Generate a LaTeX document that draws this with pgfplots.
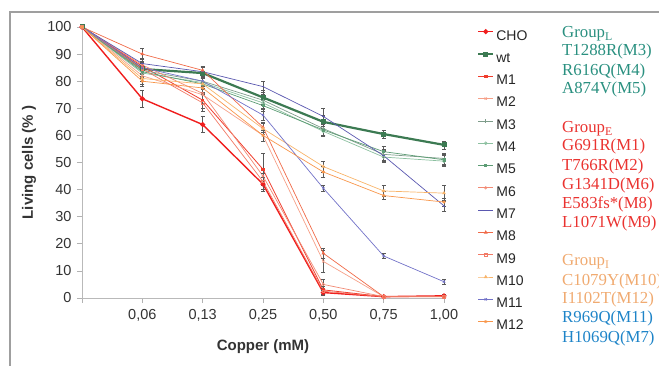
\documentclass[border=0pt]{standalone}
\usepackage{pgfplots}
\pgfplotsset{compat=1.18}
\usepackage{fontspec}
\setmainfont{Liberation Sans}
\newfontfamily\tnr{Liberation Serif}
\definecolor{cho}{HTML}{F01E1E}
\definecolor{wt}{HTML}{3C7A52}
\definecolor{mone}{HTML}{F03C2C}
\definecolor{mtwo}{HTML}{F6A088}
\definecolor{mthree}{HTML}{7E9C8A}
\definecolor{mfour}{HTML}{8CC0A0}
\definecolor{mfive}{HTML}{5C9C74}
\definecolor{msix}{HTML}{F28A74}
\definecolor{mseven}{HTML}{5A58B0}
\definecolor{meight}{HTML}{F06A48}
\definecolor{mnine}{HTML}{F27A66}
\definecolor{mten}{HTML}{F8B46A}
\definecolor{meleven}{HTML}{7272C8}
\definecolor{mtwelve}{HTML}{F8964A}
\definecolor{gteal}{HTML}{2A9080}
\definecolor{gred}{HTML}{EA3330}
\definecolor{gorange}{HTML}{F0AA70}
\definecolor{gblue}{HTML}{1E84C8}
\begin{document}
\begin{tikzpicture}
\useasboundingbox (0,0) rectangle (659pt,366pt);
\draw[gray!75, line width=1.3pt] (10pt,-5pt) -- (10pt,354pt) -- (665pt,354pt);
\begin{axis}[
  at={(82pt,68pt)}, anchor=south west,
  scale only axis, width=362pt, height=271pt,
  xmin=0, xmax=6, ymin=0, ymax=100,
  clip=false,
  axis lines=left,
  axis line style={-, draw=gray!55, line width=0.7pt},
  xtick={0,1,2,3,4,5,6},
  xticklabels={{},{0,06},{0,13},{0,25},{0,50},{0,75},{1,00}},
  ytick={0,10,...,100},
  tick align=outside,
  major tick length=5pt,
  tick style={draw=gray!60, line width=0.7pt},
  /pgf/number format/assume math mode=true,
  ticklabel style={font=\fontsize{14.5}{15}\selectfont, text=black!80},
  xticklabel style={yshift=-3pt},
  yticklabel style={xshift=-2pt},
  xlabel={\textbf{Copper (mM)}},
  ylabel={\textbf{Living cells (\% )}},
  xlabel style={at={(axis description cs:0.5,-0.181)}, anchor=center, font=\fontsize{15}{16}\selectfont, text=black!80},
  ylabel style={at={(axis description cs:-0.1464,0.5)}, anchor=center, font=\fontsize{15}{16}\selectfont, text=black!80},
  legend style={at={(1.091,0.99)}, anchor=north west, draw=none, fill=none,
    inner sep=0pt, row sep=9.3pt,
    font=\fontsize{14}{14}\selectfont, text=black!85,
    nodes={inner xsep=2pt, inner ysep=0pt, text height=10pt, text depth=3pt}},
  legend cell align=left,
  legend image code/.code={\draw[mark repeat=2,mark phase=2,#1] plot coordinates {(0pt,4.8pt) (7.5pt,4.8pt) (15pt,4.8pt)};},
  errs/.style={error bars/.cd, y dir=both, y explicit,
    error bar style={black!65, line width=0.5pt},
    error mark options={black!65, rotate=90, mark size=2pt, line width=0.5pt}},
]
% CHO
\addplot[cho, line width=1.4pt, mark=*, mark size=1.8pt, errs] coordinates {
(0,100) +- (0,0) (1,73.5) +- (0,3) (2,64) +- (0,3) (3,42) +- (0,2.5) (4,2) +- (0,1) (5,0.5) +- (0,0.3) (6,0.8) +- (0,0.5)};
\addlegendentry{CHO}
% wt
\addplot[wt, line width=2.2pt, mark=square*, mark size=1.4pt, errs] coordinates {
(0,100) +- (0,0) (1,84.5) +- (0,2) (2,83) +- (0,2) (3,74) +- (0,2.5) (4,65) +- (0,2.5) (5,60.5) +- (0,1.5) (6,56.5) +- (0,1.5)};
\addlegendentry{wt}
% M1
\addplot[mone, line width=0.8pt, mark=square*, mark size=1.2pt, errs] coordinates {
(0,100) +- (0,0) (1,85.5) +- (0,2) (2,73) +- (0,3) (3,47.5) +- (0,6) (4,3) +- (0,1.5) (5,0.5) +- (0,0.3) (6,0.5) +- (0,0.3)};
\addlegendentry{M1}
% M2
\addplot[mtwo, line width=0.7pt, mark=x, mark size=1.6pt, errs] coordinates {
(0,100) +- (0,0) (1,82) +- (0,2) (2,75) +- (0,3) (3,60) +- (0,2) (4,13.5) +- (0,4) (5,0.5) +- (0,0.3) (6,0.5) +- (0,0.3)};
\addlegendentry{M2}
% M3
\addplot[mthree, line width=0.7pt, mark=+, mark size=1.6pt, errs] coordinates {
(0,100) +- (0,0) (1,84) +- (0,2) (2,80) +- (0,2) (3,73) +- (0,2) (4,62.5) +- (0,2.5) (5,53) +- (0,2) (6,51.5) +- (0,2)};
\addlegendentry{M3}
% M4
\addplot[mfour, line width=0.7pt, mark=o, mark size=1.4pt, errs] coordinates {
(0,100) +- (0,0) (1,83) +- (0,2) (2,79.5) +- (0,2) (3,72) +- (0,2) (4,61.5) +- (0,2) (5,52) +- (0,2) (6,50.5) +- (0,2)};
\addlegendentry{M4}
% M5
\addplot[mfive, line width=0.7pt, mark=square*, mark size=1.1pt, errs] coordinates {
(0,100) +- (0,0) (1,83.5) +- (0,2) (2,79) +- (0,2) (3,71) +- (0,2) (4,62) +- (0,2) (5,54) +- (0,2) (6,51) +- (0,2)};
\addlegendentry{M5}
% M6
\addplot[msix, line width=0.7pt, mark=o, mark size=1.2pt, errs] coordinates {
(0,100) +- (0,0) (1,86) +- (0,2) (2,75.5) +- (0,3) (3,45) +- (0,3) (4,5) +- (0,2) (5,0.5) +- (0,0.3) (6,0.5) +- (0,0.3)};
\addlegendentry{M6}
% M7
\addplot[mseven, line width=0.7pt, mark=-, mark size=1.4pt, errs] coordinates {
(0,100) +- (0,0) (1,86.5) +- (0,2) (2,83.5) +- (0,2) (3,78) +- (0,2) (4,67) +- (0,3) (5,52.5) +- (0,2) (6,34) +- (0,2)};
\addlegendentry{M7}
% M8
\addplot[meight, line width=0.7pt, mark=triangle*, mark size=1.5pt, errs] coordinates {
(0,100) +- (0,0) (1,90) +- (0,2) (2,84) +- (0,1.5) (3,63) +- (0,2) (4,16.5) +- (0,2) (5,0.5) +- (0,0.3) (6,0.5) +- (0,0.3)};
\addlegendentry{M8}
% M9
\addplot[mnine, line width=0.7pt, mark=square, mark size=1.3pt, errs] coordinates {
(0,100) +- (0,0) (1,84.5) +- (0,2) (2,72) +- (0,3) (3,43) +- (0,3) (4,2.5) +- (0,1) (5,0.5) +- (0,0.3) (6,0.5) +- (0,0.3)};
\addlegendentry{M9}
% M10
\addplot[mten, line width=0.7pt, mark=triangle*, mark size=1.5pt, errs] coordinates {
(0,100) +- (0,0) (1,81) +- (0,2) (2,79) +- (0,2) (3,62.5) +- (0,2) (4,48.5) +- (0,2) (5,39.5) +- (0,2) (6,38.7) +- (0,3)};
\addlegendentry{M10}
% M11
\addplot[meleven, line width=0.7pt, mark=x, mark size=1.6pt, errs] coordinates {
(0,100) +- (0,0) (1,85) +- (0,2) (2,80) +- (0,2) (3,67.5) +- (0,2) (4,40.5) +- (0,1) (5,15.5) +- (0,1) (6,6) +- (0,1)};
\addlegendentry{M11}
% M12
\addplot[mtwelve, line width=0.7pt, mark=asterisk, mark size=1.6pt, errs] coordinates {
(0,100) +- (0,0) (1,80) +- (0,2) (2,77.5) +- (0,2) (3,60) +- (0,2) (4,46.5) +- (0,2) (5,37.8) +- (0,1.5) (6,35.4) +- (0,1.5)};
\addlegendentry{M12}
\end{axis}
\begin{scope}[every node/.style={anchor=base west, inner sep=0pt, font=\tnr\fontsize{16.8}{17}\selectfont}]
\node[text=gteal] at (562pt,{(366-37.5)*1pt}) {Group\textsubscript{L}};
\node[text=gteal] at (562pt,{(366-55.5)*1pt}) {T1288R(M3)};
\node[text=gteal] at (562pt,{(366-75.5)*1pt}) {R616Q(M4)};
\node[text=gteal] at (562pt,{(366-93.5)*1pt}) {A874V(M5)};
\node[text=gred] at (562pt,{(366-132.5)*1pt}) {Group\textsubscript{E}};
\node[text=gred] at (562pt,{(366-150.5)*1pt}) {G691R(M1)};
\node[text=gred] at (562pt,{(366-170.5)*1pt}) {T766R(M2)};
\node[text=gred] at (562pt,{(366-189.5)*1pt}) {G1341D(M6)};
\node[text=gred] at (562pt,{(366-208.5)*1pt}) {E583fs*(M8)};
\node[text=gred] at (562pt,{(366-227.5)*1pt}) {L1071W(M9)};
\node[text=gorange] at (562pt,{(366-265.5)*1pt}) {Group\textsubscript{I}};
\node[text=gorange] at (562pt,{(366-285.5)*1pt}) {C1079Y(M10)};
\node[text=gorange] at (562pt,{(366-303.5)*1pt}) {I1102T(M12)};
\node[text=gblue] at (562pt,{(366-322.5)*1pt}) {R969Q(M11)};
\node[text=gblue] at (562pt,{(366-342.5)*1pt}) {H1069Q(M7)};
\end{scope}
\end{tikzpicture}
\end{document}
